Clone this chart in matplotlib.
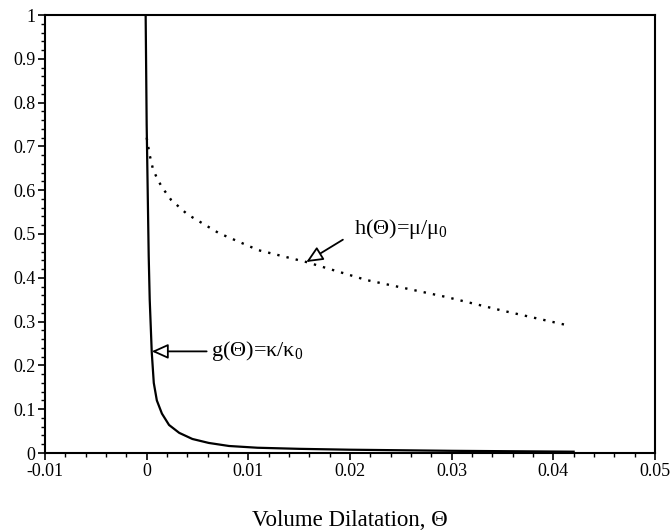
import matplotlib
matplotlib.use("Agg")
import matplotlib.pyplot as plt
from matplotlib.ticker import MultipleLocator, FixedLocator

plt.rcParams['font.family'] = ['Liberation Serif', 'DejaVu Serif']
plt.rcParams['mathtext.fontset'] = 'custom'
plt.rcParams['mathtext.rm'] = 'Liberation Serif'
plt.rcParams['mathtext.it'] = 'Liberation Serif'

# g(Theta) = kappa/kappa0 (solid)
g_x = [-0.0001, 0.0, 0.0001, 0.0002, 0.0003, 0.0005, 0.0007, 0.001, 0.0015,
       0.0022, 0.0032, 0.0045, 0.0061, 0.0081, 0.0109, 0.015, 0.020, 0.030, 0.042]
g_y = [1.0, 0.75, 0.60, 0.45, 0.35, 0.23, 0.16, 0.12, 0.09,
       0.064, 0.046, 0.032, 0.023, 0.016, 0.012, 0.0095, 0.0075, 0.005, 0.003]

# h(Theta) = mu/mu0 (dotted)
h_x = [0.0, 0.0003, 0.0006, 0.001, 0.0015, 0.0024, 0.004, 0.0071, 0.011, 0.0157,
       0.0216, 0.0295, 0.035, 0.0417]
h_y = [0.72, 0.68, 0.65, 0.628, 0.607, 0.578, 0.545, 0.502, 0.463, 0.436,
       0.395, 0.356, 0.325, 0.29]

x_ticks = [-0.01, 0, 0.01, 0.02, 0.03, 0.04, 0.05]
x_labels = ['-0.01', '0', '0.01', '0.02', '0.03', '0.04', '0.05']
y_ticks = [0, 0.1, 0.2, 0.3, 0.4, 0.5, 0.6, 0.7, 0.8, 0.9, 1]
y_labels = ['0', '0.1', '0.2', '0.3', '0.4', '0.5', '0.6', '0.7', '0.8', '0.9', '1']

fig = plt.figure(figsize=(6.7, 5.31), dpi=100)
ax = fig.add_axes([45/670, 1-453/531, 610/670, 438/531])

ax.plot(g_x, g_y, color='black', lw=1.6, solid_joinstyle='round')
ax.plot(h_x, h_y, color='black', lw=1.7, linestyle=(0, (1, 3.0)))

ax.set_xlim(-0.01, 0.05)
ax.set_ylim(0, 1)
ax.xaxis.set_major_locator(FixedLocator(x_ticks))
ax.set_xticklabels(x_labels)
ax.yaxis.set_major_locator(FixedLocator(y_ticks))
ax.set_yticklabels(y_labels)
ax.xaxis.set_minor_locator(MultipleLocator(0.002))
ax.yaxis.set_minor_locator(MultipleLocator(0.02))
ax.tick_params(which='major', direction='out', length=5, width=1.2, labelsize=13, pad=2)
ax.tick_params(which='minor', direction='out', length=3, width=1.0)
for s in ax.spines.values():
    s.set_linewidth(1.5)

ax.set_xlabel('Volume Dilatation, Θ', fontsize=16.5, labelpad=22)

ap = dict(arrowstyle='-|>,head_length=1.0,head_width=0.45', fc='white', ec='black', lw=1.3,
          shrinkA=0, shrinkB=0)
ax.annotate('', xy=(0.0157, 0.436), xytext=(0.0193, 0.487), arrowprops=ap)
ax.text(0.0204, 0.512, 'h(Θ)=μ/μ$_0$', fontsize=16, va='center', ha='left')
ax.annotate('', xy=(0.0005, 0.232), xytext=(0.0059, 0.232), arrowprops=ap)
ax.text(0.0063, 0.232, 'g(Θ)=κ/κ$_0$', fontsize=16, va='center', ha='left')

fig.savefig('out.png', dpi=100)
